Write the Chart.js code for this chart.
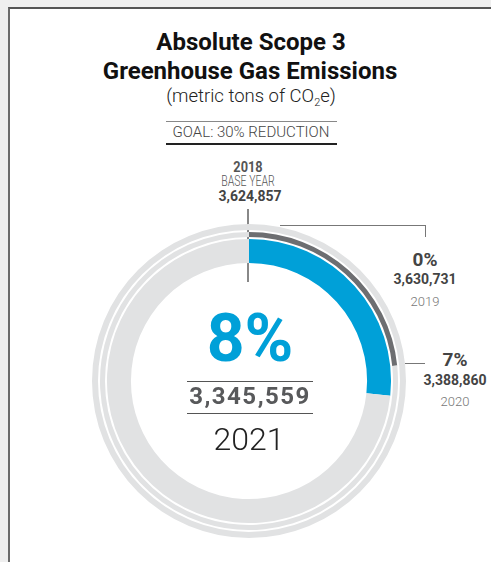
<!DOCTYPE html>
<html>
<head>
<meta charset="utf-8">
<script src="https://cdn.jsdelivr.net/npm/chart.js@4.4.1/dist/chart.umd.min.js"></script>
<style>
    html, body { margin: 0; padding: 0; }
    body {
        width: 491px;
        height: 562px;
        overflow: hidden;
        background: #efefef;
        font-family: Roboto, "Noto Sans", sans-serif;
        position: relative;
    }
    .panel {
        position: absolute;
        left: 8px;
        top: 7px;
        width: 500px;
        height: 570px;
        background: #fff;
        border-top: 2px solid #555;
        border-left: 2px solid #6b6b6b;
    }
    .t {
        position: absolute;
        transform: translateX(-50%);
        white-space: nowrap;
        line-height: 1;
    }
    .rule { position: absolute; }
    #ringBox {
        position: absolute;
        left: 92px;
        top: 224px;
        width: 314px;
        height: 314px;
    }
</style>
</head>
<body>
<div class="panel"></div>

<div class="t" style="left:251px; top:30px; font-size:24px; font-weight:700; color:#111;">Absolute Scope 3</div>
<div class="t" style="left:250px; top:59px; font-size:24px; font-weight:700; color:#111;">Greenhouse Gas Emissions</div>
<div class="t" style="left:251px; top:87px; font-size:18.5px; font-weight:300; color:#222;">(metric tons of CO<sub style="font-size:11px; vertical-align:-4px;">2</sub>e)</div>

<div class="rule" style="left:166px; top:121px; width:171px; height:1px; background:#888;"></div>
<div class="t" id="goalLabel" style="left:251px; top:125px; font-size:15px; font-weight:300; color:#444;"></div>
<div class="rule" style="left:166px; top:143px; width:171px; height:2px; background:#222;"></div>

<div class="t" id="baseYear" style="left:248px; top:160px; font-size:15px; font-weight:700; color:#555; transform:translateX(-50%) scaleX(0.85);"></div>
<div class="t" style="left:248px; top:174px; font-size:14px; font-weight:300; color:#555; transform:translateX(-50%) scaleX(0.75);">BASE YEAR</div>
<div class="t" id="baseValue" style="left:250px; top:189px; font-size:14px; font-weight:700; color:#444;"></div>
<div class="rule" style="left:247px; top:209px; width:2px; height:73px; background:#888;"></div>

<div class="rule" style="left:280px; top:225px; width:146px; height:1px; background:#777;"></div>
<div class="rule" style="left:425px; top:225px; width:1px; height:12px; background:#777;"></div>
<div class="t" id="pct2019" style="left:425px; top:250px; font-size:19px; font-weight:700; color:#444;"></div>
<div class="t" id="val2019" style="left:425px; top:272px; font-size:14px; font-weight:700; color:#444;"></div>
<div class="t" id="yr2019" style="left:425px; top:295px; font-size:13px; font-weight:300; color:#777;"></div>

<div class="rule" style="left:405px; top:363px; width:20px; height:1px; background:#777;"></div>
<div class="t" id="pct2020" style="left:455px; top:350px; font-size:19px; font-weight:700; color:#444;"></div>
<div class="t" id="val2020" style="left:455px; top:373px; font-size:14px; font-weight:700; color:#444;"></div>
<div class="t" id="yr2020" style="left:455px; top:395px; font-size:13px; font-weight:300; color:#777;"></div>

<div id="ringBox"><canvas id="scope3Chart"></canvas></div>

<div class="t" id="pct2021" style="left:250px; top:306px; font-size:66px; font-weight:700; color:#00a0d8;"></div>
<div class="rule" style="left:187px; top:381px; width:126px; height:1px; background:#555;"></div>
<div class="t" id="val2021" style="left:250px; top:384px; font-size:24px; font-weight:700; color:#58595b; letter-spacing:1.5px;"></div>
<div class="rule" style="left:187px; top:413px; width:126px; height:1px; background:#555;"></div>
<div class="t" id="yr2021" style="left:249px; top:423px; font-size:32px; font-weight:300; color:#222;"></div>

<script>
// Emissions by year (metric tons CO2e)
const years = ['2018', '2019', '2020', '2021'];
const emissions = [3624857, 3630731, 3388860, 3345559];
// Reduction vs. 2018 base year, in percent (as labelled)
const reductionPct = [0, 0, 7, 8];
const goalPct = 30;

// Ring colours, outer ring = 2019, middle = 2020, inner = 2021
const arcColors = ['#6d6e71', '#6d6e71', '#00a0d8'];
const trackColor = '#e1e2e3';

function fmt(n) {
    return n.toLocaleString('en-US');
}

// Fill in text labels
document.getElementById('goalLabel').textContent = `GOAL: ${goalPct}% REDUCTION`;
document.getElementById('baseYear').textContent = years[0];
document.getElementById('baseValue').textContent = fmt(emissions[0]);
['2019', '2020', '2021'].forEach((yr, i) => {
    const idx = i + 1;
    document.getElementById('pct' + yr).textContent = reductionPct[idx] + '%';
    document.getElementById('val' + yr).textContent = fmt(emissions[idx]);
    document.getElementById('yr' + yr).textContent = yr;
});

function ringDataset(idx, weight) {
    return {
        data: [reductionPct[idx], goalPct - reductionPct[idx]],
        backgroundColor: [arcColors[idx - 1], trackColor],
        borderWidth: 0,
        weight: weight
    };
}

// Transparent spacer rings to leave white gaps between rings
function spacer(weight) {
    return {
        data: [1],
        backgroundColor: ['rgba(0,0,0,0)'],
        borderWidth: 0,
        weight: weight
    };
}

const ctx = document.getElementById('scope3Chart');
new Chart(ctx, {
    type: 'doughnut',
    data: {
        labels: ['Reduction', 'Remaining to goal'],
        datasets: [
            ringDataset(1, 6),
            spacer(2),
            ringDataset(2, 5),
            spacer(2),
            ringDataset(3, 24)
        ]
    },
    options: {
        responsive: true,
        maintainAspectRatio: false,
        animation: false,
        events: [],
        cutout: '75.2%',
        rotation: 0,
        layout: { padding: 0 },
        plugins: {
            legend: { display: false },
            tooltip: { enabled: false }
        }
    }
});
</script>
</body>
</html>
